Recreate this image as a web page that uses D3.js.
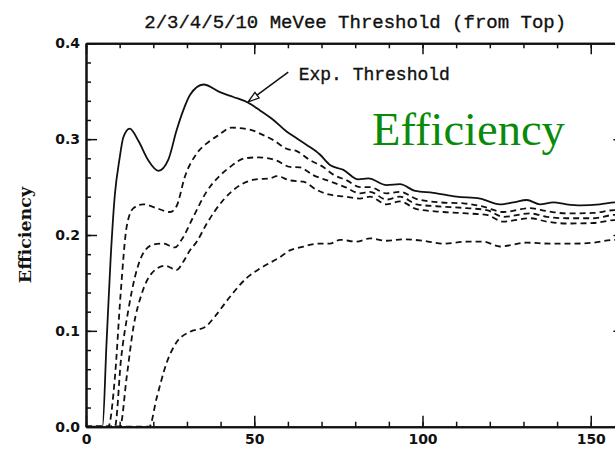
<!DOCTYPE html>
<html>
<head>
<meta charset="utf-8">
<script src="https://cdn.jsdelivr.net/npm/d3@7"></script>
<style>
  html, body { margin: 0; padding: 0; background: #fff; }
  svg { display: block; }
</style>
</head>
<body>
<script>
// ---- Data (energy vs efficiency) ----
const seriesNames = ["2 MeVee", "3 MeVee", "4 MeVee", "5 MeVee", "10 MeVee"];

const thr2 = [[0,0],[4.9,0],[6.1,0.087],[7.3,0.174],[8.6,0.243],[9.9,0.278],[11.1,0.302],[13.0,0.311],[15.6,0.298],[18.5,0.278],[21.5,0.267],[24.5,0.279],[26.9,0.309],[28.9,0.330],[30.9,0.346],[34.9,0.357],[39.8,0.349],[43.8,0.344],[48.2,0.338],[51.7,0.330],[55.7,0.320],[59.6,0.308],[62.6,0.301],[65.6,0.294],[69.5,0.284],[72.5,0.273],[76.5,0.268],[80.9,0.258],[83.9,0.259],[89.3,0.252],[93.3,0.253],[97.8,0.246],[103.2,0.244],[110.1,0.240],[117.1,0.238],[123,0.232],[127,0.234],[131,0.2365],[134.9,0.232],[138.9,0.234],[142.8,0.232],[147,0.231],[152.7,0.232],[157.5,0.234],[160,0.234]];

const thr3 = [[0,0],[6.6,0],[8.6,0.052],[10.3,0.139],[12.1,0.209],[14.1,0.228],[17,0.232],[21,0.228],[25,0.224],[26.9,0.230],[29.4,0.261],[32.9,0.285],[36.4,0.297],[39.3,0.304],[43.3,0.312],[48.7,0.310],[52.2,0.305],[55.7,0.299],[59.6,0.290],[62.6,0.2875],[66.6,0.278],[70.5,0.271],[73.5,0.263],[77.5,0.257],[81.4,0.250],[84.4,0.250],[89.3,0.2435],[93.3,0.245],[98.3,0.2375],[105.2,0.234],[112.2,0.233],[118.1,0.2295],[124,0.224],[131.9,0.228],[136.9,0.225],[142.8,0.2225],[150.7,0.223],[157.2,0.226],[160,0.226]];

const thr4 = [[0,0],[8.6,0],[10.4,0.070],[12.6,0.122],[14.6,0.157],[17,0.181],[20,0.190],[22.9,0.191],[26.4,0.187],[28.4,0.195],[31.9,0.219],[35.8,0.245],[39.8,0.262],[42.8,0.271],[47.2,0.280],[51.2,0.281],[56.7,0.2775],[60.6,0.271],[63.6,0.2705],[67.5,0.2625],[72.5,0.256],[77,0.250],[81.4,0.2435],[84.4,0.245],[89.3,0.237],[93.3,0.240],[98.3,0.232],[106.2,0.2295],[113.2,0.228],[119.1,0.226],[124,0.219],[131.9,0.2225],[136.9,0.219],[142.8,0.2175],[150.7,0.2175],[157.2,0.221],[160,0.221]];

const thr5 = [[0,0],[10.1,0],[12.1,0.052],[14.1,0.104],[16.6,0.139],[19.5,0.160],[23.5,0.168],[26.9,0.1635],[28.9,0.172],[30.9,0.184],[32.9,0.193],[35.9,0.212],[40.8,0.2365],[45.8,0.252],[50.5,0.258],[54.7,0.259],[56.7,0.2615],[60.6,0.257],[64.6,0.2556],[68.6,0.247],[72.5,0.242],[77,0.240],[81.4,0.238],[84.4,0.240],[89.3,0.232],[93.3,0.235],[98.3,0.227],[106.2,0.224],[113.2,0.2225],[119.1,0.221],[124,0.214],[131.9,0.2175],[136.9,0.214],[142.8,0.212],[150.7,0.2125],[157.2,0.2155],[160,0.2155]];

const thr10 = [[0,0],[18.8,0],[21,0.030],[24,0.067],[26.9,0.088],[30.9,0.099],[35.4,0.104],[38.3,0.115],[42.8,0.1356],[47.7,0.155],[51.7,0.165],[57.7,0.177],[60.6,0.184],[63.6,0.187],[69.5,0.191],[72.5,0.191],[75.5,0.195],[80.4,0.193],[84.4,0.1965],[89.3,0.194],[94.3,0.1955],[100.2,0.194],[106.2,0.191],[113.2,0.193],[118.1,0.193],[123,0.188],[131,0.192],[137.9,0.191],[144.8,0.191],[150.7,0.192],[157.2,0.195],[160,0.195]];

const xMajorTicks = [0, 50, 100, 150];
const xMinorTicks = d3.range(0, 161, 10);
const yMajorTicks = [0.0, 0.1, 0.2, 0.3, 0.4];
const yMinorTicks = d3.range(0, 0.401, 0.02);

const titleText = "2/3/4/5/10 MeVee Threshold (from Top)";
const yLabelText = "Efficiency";
const overlayText = "Efficiency";
const annoText = "Exp. Threshold";
const annoTip = [48.2, 0.339];
const annoTail = [60.1, 0.370];
const annoTextPos = [63.2, 0.3615];

// ---- Layout ----
const W = 615, H = 450;
const mLeft = 86, mTop = 43.3, mRight = 624.4, mBottom = 426.7;

const svg = d3.select("body").append("svg").attr("width", W).attr("height", H);

const x = d3.scaleLinear().domain([0, 160]).range([mLeft, mRight]);
const y = d3.scaleLinear().domain([0, 0.4]).range([mBottom, mTop]);

svg.append("defs").append("clipPath").attr("id", "plotclip")
  .append("rect").attr("x", mLeft).attr("y", mTop).attr("width", mRight - mLeft).attr("height", mBottom - mTop);

// ---- Curves ----
const line = d3.line().x(d => x(d[0])).y(d => y(d[1])).curve(d3.curveMonotoneX);
const series = [thr2, thr3, thr4, thr5, thr10];
const g = svg.append("g").attr("clip-path", "url(#plotclip)");
series.forEach((s, i) => {
  g.append("path").datum(s)
    .attr("d", line)
    .attr("fill", "none")
    .attr("stroke", "#111")
    .attr("stroke-width", 1.8)
    .attr("stroke-linejoin", "round")
    .attr("stroke-dasharray", i === 0 ? null : "6,4");
});

// ---- Axes ----
function styleAxis(sel) {
  sel.select(".domain").attr("stroke", "#111").attr("stroke-width", 2);
  sel.selectAll(".tick line").attr("stroke", "#111").attr("stroke-width", 1.5);
  sel.selectAll("text").attr("fill", "#111")
    .style("font-family", "'DejaVu Sans', sans-serif").style("font-weight", "bold").style("font-size", "14px");
}
// minor ticks
svg.append("g").attr("transform", `translate(0,${mBottom})`)
  .call(d3.axisBottom(x).tickValues(xMinorTicks).tickSize(-5).tickSizeOuter(0).tickFormat(""))
  .call(styleAxis);
svg.append("g").attr("transform", `translate(0,${mTop})`)
  .call(d3.axisTop(x).tickValues(xMinorTicks).tickSize(-5).tickSizeOuter(0).tickFormat(""))
  .call(styleAxis);
svg.append("g").attr("transform", `translate(${mLeft},0)`)
  .call(d3.axisLeft(y).tickValues(yMinorTicks).tickSize(-5).tickSizeOuter(0).tickFormat(""))
  .call(styleAxis);
svg.append("g").attr("transform", `translate(${mRight},0)`)
  .call(d3.axisRight(y).tickValues(yMinorTicks).tickSize(-5).tickSizeOuter(0).tickFormat(""))
  .call(styleAxis);
// major ticks
svg.append("g").attr("transform", `translate(0,${mBottom})`)
  .call(d3.axisBottom(x).tickValues(xMajorTicks).tickSize(-11).tickSizeOuter(0).tickPadding(7).tickFormat(d3.format("d")))
  .call(styleAxis);
svg.append("g").attr("transform", `translate(0,${mTop})`)
  .call(d3.axisTop(x).tickValues(xMajorTicks).tickSize(-11).tickSizeOuter(0).tickFormat(""))
  .call(styleAxis);
svg.append("g").attr("transform", `translate(${mLeft},0)`)
  .call(d3.axisLeft(y).tickValues(yMajorTicks).tickSize(-11).tickSizeOuter(0).tickPadding(6).tickFormat(d3.format(".1f")))
  .call(styleAxis);
svg.append("g").attr("transform", `translate(${mRight},0)`)
  .call(d3.axisRight(y).tickValues(yMajorTicks).tickSize(-11).tickSizeOuter(0).tickFormat(""))
  .call(styleAxis);

// ---- Title ----
svg.append("text")
  .attr("x", (mLeft + mRight) / 2).attr("y", 28)
  .attr("text-anchor", "middle")
  .style("font-family", "'Liberation Mono', 'Courier New', monospace")
  .style("font-size", "19px")
  .attr("fill", "#111")
  .attr("stroke", "#111").attr("stroke-width", 0.35)
  .text(titleText);

// ---- Y label ----
svg.append("text")
  .attr("transform", `translate(30.5,${(mTop + mBottom) / 2}) rotate(-90)`)
  .attr("text-anchor", "middle")
  .style("font-family", "'DejaVu Serif', serif")
  .style("font-weight", "bold")
  .style("font-size", "17.5px")
  .attr("fill", "#111")
  .text(yLabelText);

// ---- Annotation ----
const tip = [x(annoTip[0]), y(annoTip[1])];
const tail = [x(annoTail[0]), y(annoTail[1])];
const ang = Math.atan2(tip[1] - tail[1], tip[0] - tail[0]);
const headLen = 11, headHalf = 3.5;
const base = [tip[0] - headLen * Math.cos(ang), tip[1] - headLen * Math.sin(ang)];
svg.append("line")
  .attr("x1", tail[0]).attr("y1", tail[1]).attr("x2", base[0]).attr("y2", base[1])
  .attr("stroke", "#111").attr("stroke-width", 1.5);
svg.append("polygon")
  .attr("points", [
    tip,
    [base[0] + headHalf * Math.sin(ang), base[1] - headHalf * Math.cos(ang)],
    [base[0] - headHalf * Math.sin(ang), base[1] + headHalf * Math.cos(ang)]
  ].map(p => p.join(",")).join(" "))
  .attr("fill", "#fff").attr("stroke", "#111").attr("stroke-width", 1.3);
svg.append("text")
  .attr("x", x(annoTextPos[0])).attr("y", y(annoTextPos[1]))
  .style("font-family", "'Liberation Mono', 'Courier New', monospace")
  .style("font-size", "18px")
  .attr("fill", "#111")
  .attr("stroke", "#111").attr("stroke-width", 0.35)
  .text(annoText);

// ---- Green overlay text ----
svg.append("text")
  .attr("x", 372).attr("y", 145)
  .style("font-family", "'Liberation Serif', serif")
  .style("font-size", "46.5px")
  .style("font-variant-ligatures", "none")
  .attr("fill", "#0a8a0a")
  .text(overlayText);
</script>
</body>
</html>
